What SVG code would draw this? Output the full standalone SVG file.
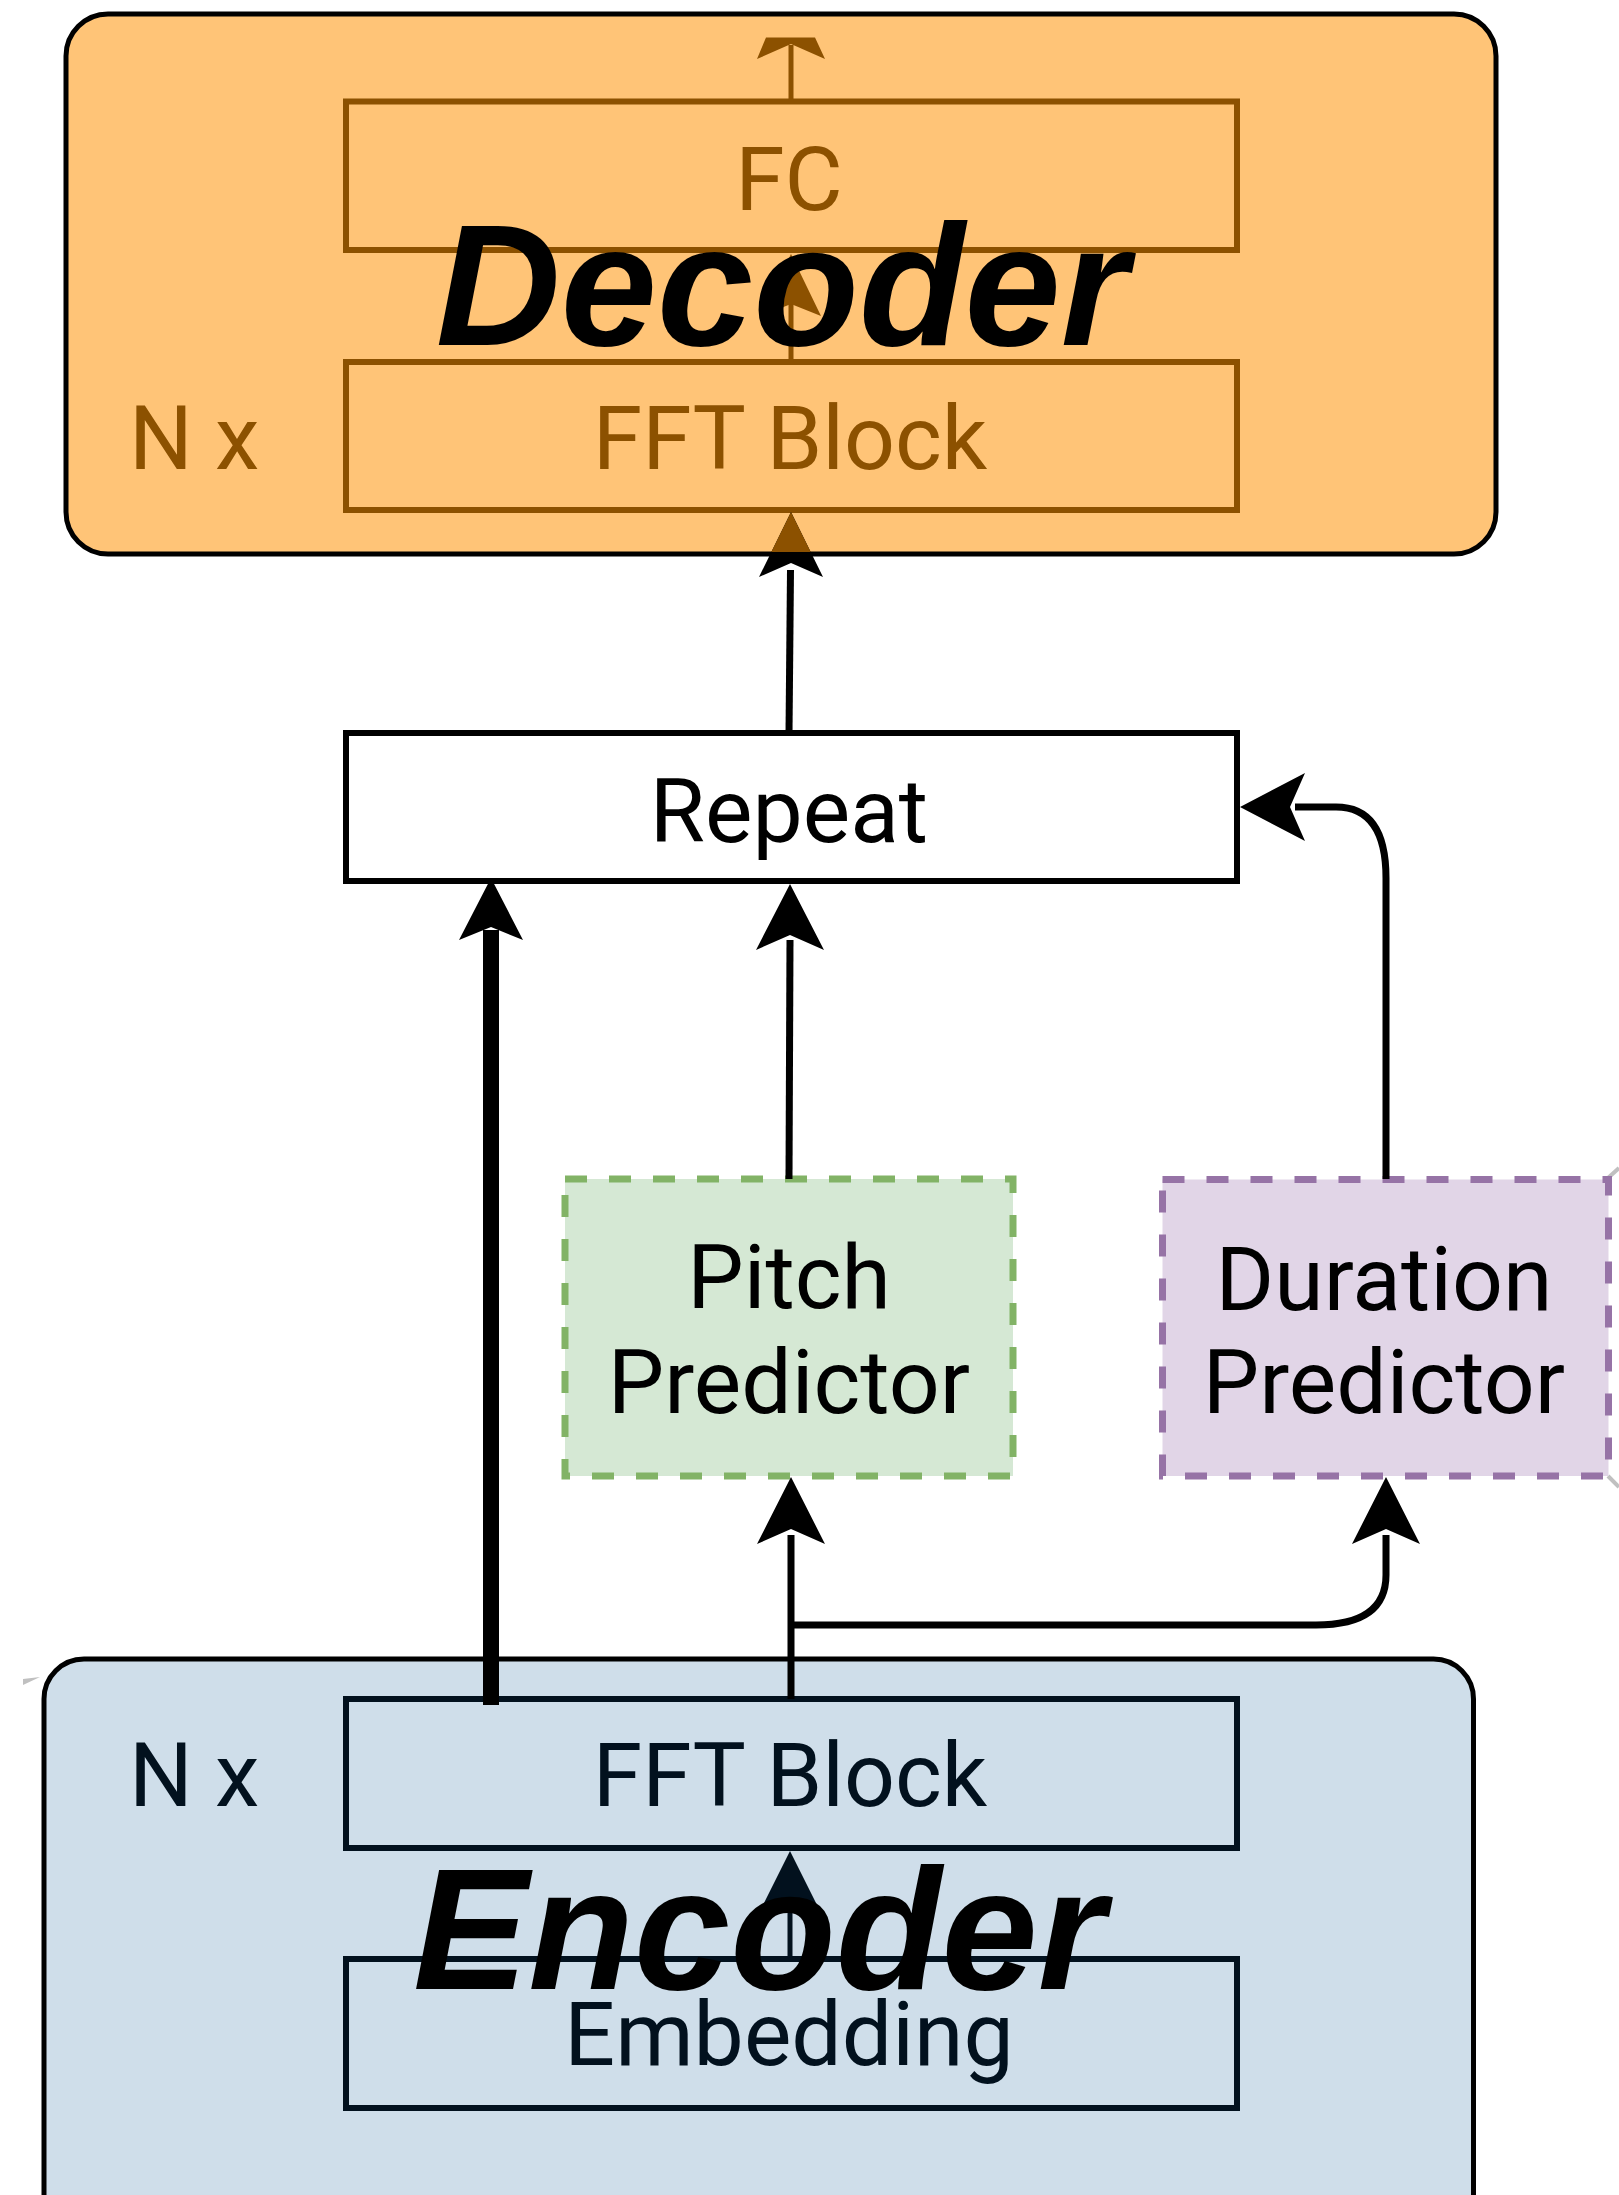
<svg xmlns="http://www.w3.org/2000/svg" width="1619" height="2195" viewBox="0 0 1619 2195">
<defs>
<style>
.lbl{font-family:Roboto,"Liberation Sans",sans-serif;font-size:89.5px;text-anchor:middle}
.title{font-family:"Liberation Sans",Arial,sans-serif;font-weight:bold;font-style:italic;font-size:173px;text-anchor:middle;fill:#000}
.dec{fill:#8C5100}
.enc{fill:#02111E}
.box{stroke-width:6}
.conn{fill:none;stroke:#000;stroke-width:7}
</style>
<clipPath id="decClip"><rect x="68" y="16" width="1426" height="536"/></clipPath>
</defs>
<rect width="1619" height="2195" fill="#fff"/>

<g id="artifacts" fill="none" stroke="#C0C0C0" stroke-width="4">
<path d="M1608,1178 L1619,1168"/>
<path d="M1608,1476 L1619,1487"/>
<polygon points="23,1679 40,1677 23,1685" fill="#C0C0C0" stroke="none"/>
</g>

<g id="decoder">
<rect x="66" y="14" width="1430" height="540" rx="42" fill="#FFC477" stroke="#000" stroke-width="5"/>
<text class="lbl dec" x="129" y="469" style="text-anchor:start">N x</text>
</g>
<g id="fc">
<rect class="box" x="346" y="101.5" width="891" height="148.5" fill="none" stroke="#8C5100"/>
<text class="lbl dec" x="789" y="210">FC</text>
</g>
<g id="dec-fft">
<rect class="box" x="346" y="362" width="891" height="148" fill="none" stroke="#8C5100"/>
<text class="lbl dec" x="790" y="469">FFT Block</text>
</g>

<g id="encoder">
<rect x="44" y="1659" width="1429.5" height="620" rx="40" fill="#CFDEEA" stroke="#000" stroke-width="5"/>
<text class="lbl enc" x="129" y="1806" style="text-anchor:start">N x</text>
</g>
<g id="enc-fft">
<rect class="box" x="346" y="1699" width="891" height="149" fill="none" stroke="#02111E"/>
<text class="lbl enc" x="790" y="1806">FFT Block</text>
</g>
<g id="embedding">
<rect class="box" x="346" y="1959" width="891" height="149" fill="none" stroke="#02111E"/>
<text class="lbl enc" x="789" y="2065">Embedding</text>
</g>

<g id="repeat">
<rect class="box" x="346" y="733" width="891" height="148" fill="#fff" stroke="#000"/>
<text class="lbl" x="789" y="842" fill="#000">Repeat</text>
</g>

<g id="pitch">
<rect x="565" y="1179" width="448" height="297" fill="#D5E8D4" stroke="#82B366" stroke-width="7" stroke-dasharray="22 22"/>
<text class="lbl" x="789" y="1308" fill="#000">Pitch</text>
<text class="lbl" x="789" y="1413" fill="#000">Predictor</text>
</g>

<g id="duration">
<rect x="1162.5" y="1179.5" width="446" height="296.5" fill="#E1D5E7" stroke="#9673A6" stroke-width="7" stroke-dasharray="22 22"/>
<text class="lbl" x="1384" y="1310" fill="#000">Duration</text>
<text class="lbl" x="1384" y="1413" fill="#000">Predictor</text>
</g>

<g id="connectors">
<path d="M791,101 L791,45" fill="none" stroke="#8C5100" stroke-width="5"/>
<polygon points="766,37.5 815,37.5 825,59 791,44 757,59" fill="#8C5100"/>
<path d="M791,362 L791,300" fill="none" stroke="#8C5100" stroke-width="5"/>
<polygon points="791,254 821,316 791,304 761,316" fill="#8C5100"/>
<path class="conn" d="M789,733 L790.5,570"/>
<polygon points="791,512 823,577 791,563 759,577" fill="#000"/>
<g clip-path="url(#decClip)">
<polygon points="791,512 823,577 791,563 759,577" fill="#8C5100"/>
</g>
<path d="M491,1705 L491,930" fill="none" stroke="#000" stroke-width="16"/>
<polygon points="491,878 523,940 491,927 459,940" fill="#000"/>
<path class="conn" d="M789,1179 L790,940"/>
<polygon points="790,884 824,950 790,935 756,950" fill="#000"/>
<path class="conn" d="M1386,1179 L1386,878 Q1386,807 1336,807 L1295,807"/>
<polygon points="1240,807 1305,773 1290,807 1305,841" fill="#000"/>
<path class="conn" d="M791,1699 L791,1535"/>
<polygon points="791,1477 825,1544 791,1529 757,1544" fill="#000"/>
<path class="conn" d="M791,1625 L1316,1625 Q1386,1625 1386,1575 L1386,1535"/>
<polygon points="1386,1477 1420,1544 1386,1529 1352,1544" fill="#000"/>
<path d="M790,1959 L790,1905" fill="none" stroke="#02111E" stroke-width="5"/>
<polygon points="790,1851 822,1915 790,1902 758,1915" fill="#02111E"/>
</g>

<g id="titles">
<text class="title" x="782" y="345">Decoder</text>
<text class="title" x="759" y="1989">Encoder</text>
</g>
</svg>
